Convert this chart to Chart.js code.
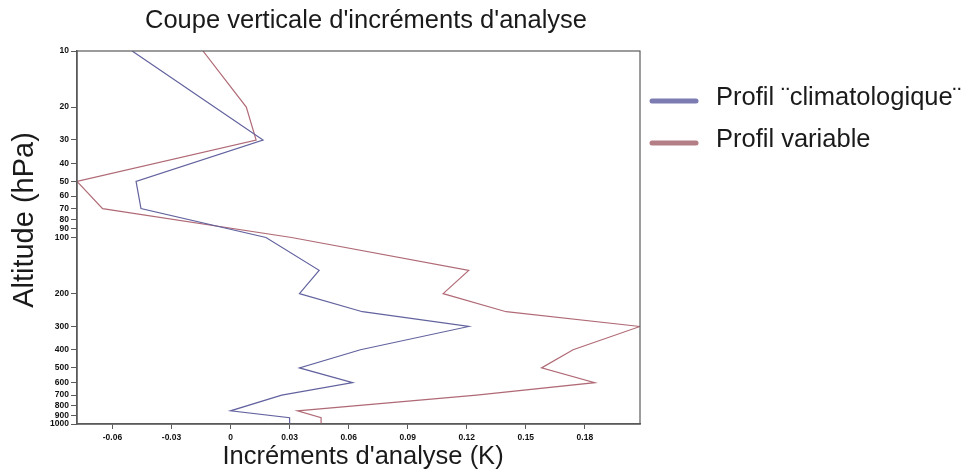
<!DOCTYPE html>
<html lang="fr">
<head>
<meta charset="utf-8">
<title>Coupe verticale d'incréments d'analyse</title>
<script src="https://cdn.jsdelivr.net/npm/chart.js@4.4.1/dist/chart.umd.min.js"></script>
<style>
  html, body { margin: 0; padding: 0; background: #fff; }
  #cadre { width: 970px; height: 475px; position: relative; }
</style>
</head>
<body>
<div id="cadre"><canvas id="coupe" width="970" height="475"></canvas></div>
<script>
// Niveaux de pression (hPa) et incréments (K) des deux profils
const niveaux = [10, 20, 30, 50, 70, 100, 150, 200, 250, 300, 400, 500, 600, 700, 850, 925, 1000];
const profilClimato = [-0.050, -0.008, 0.0165, -0.048, -0.0455, 0.018, 0.045, 0.035, 0.067, 0.121, 0.066, 0.035, 0.062, 0.026, 0.000, 0.030, 0.030];
const profilVariable = [-0.014, 0.008, 0.013, -0.078, -0.065, 0.031, 0.121, 0.108, 0.140, 0.208, 0.174, 0.158, 0.185, 0.125, 0.034, 0.046, 0.046];

// Graduations des axes
const ticksX = [-0.06, -0.03, 0, 0.03, 0.06, 0.09, 0.12, 0.15, 0.18];
const labelsX = ['-0.06', '-0.03', '0', '0.03', '0.06', '0.09', '0.12', '0.15', '0.18'];
const ticksY = [10, 20, 30, 40, 50, 60, 70, 80, 90, 100, 200, 300, 400, 500, 600, 700, 800, 900, 1000];

const bleu = '#62629f';
const rouge = '#b06a76';
const police = '"Liberation Sans", Arial, sans-serif';

function points(valeurs) {
    return valeurs.map((v, i) => ({ x: v, y: niveaux[i] }));
}

// Titre, titres d'axes, cadre et légende dessinés à la main
const habillage = {
    id: 'habillage',
    afterDraw(chart) {
        const ctx = chart.ctx;
        const a = chart.chartArea;
        ctx.save();
        // cadre autour de la zone du graphe
        ctx.strokeStyle = '#5a5a5a';
        ctx.lineWidth = 1.2;
        ctx.strokeRect(a.left, a.top, a.right - a.left, a.bottom - a.top);

        ctx.fillStyle = '#1a1a1a';
        ctx.textAlign = 'center';
        ctx.textBaseline = 'middle';
        ctx.font = '25.5px ' + police;
        ctx.fillText("Coupe verticale d'incréments d'analyse", 366, 21);

        ctx.font = '25.5px ' + police;
        ctx.fillText("Incréments d'analyse (K)", 363, 457);

        ctx.save();
        ctx.translate(25, 220);
        ctx.rotate(-Math.PI / 2);
        ctx.font = '29px ' + police;
        ctx.fillText('Altitude (hPa)', 0, 0);
        ctx.restore();

        // légende
        const entrees = [
            { nom: 'Profil ¨climatologique¨', couleur: '#7c7cb2', y: 101 },
            { nom: 'Profil variable', couleur: '#b47e86', y: 143 }
        ];
        ctx.lineCap = 'round';
        ctx.lineWidth = 5;
        ctx.textAlign = 'left';
        ctx.font = '25.5px ' + police;
        entrees.forEach(e => {
            ctx.strokeStyle = e.couleur;
            ctx.beginPath();
            ctx.moveTo(652, e.y);
            ctx.lineTo(696, e.y);
            ctx.stroke();
            ctx.fillStyle = '#1a1a1a';
            ctx.fillText(e.nom, 716, e.y - 3);
        });
        ctx.restore();
    }
};

new Chart(document.getElementById('coupe'), {
    type: 'scatter',
    data: {
        datasets: [
            { label: 'Profil ¨climatologique¨', data: points(profilClimato), borderColor: bleu, borderWidth: 1.2 },
            { label: 'Profil variable', data: points(profilVariable), borderColor: rouge, borderWidth: 1.2 }
        ]
    },
    options: {
        responsive: false,
        animation: false,
        showLine: true,
        elements: { point: { radius: 0, hoverRadius: 0 }, line: { tension: 0 } },
        layout: { padding: { left: 0, top: 51, right: 330, bottom: 0 } },
        plugins: { legend: { display: false }, tooltip: { enabled: false }, title: { display: false } },
        scales: {
            x: {
                type: 'linear',
                min: -0.078,
                max: 0.208,
                afterBuildTicks: s => { s.ticks = ticksX.map(v => ({ value: v })); },
                afterFit: s => { s.height = 51; },
                grid: { display: true, drawOnChartArea: false, tickLength: 5, color: '#5a5a5a' },
                border: { display: true, color: '#5a5a5a', width: 1.5 },
                ticks: {
                    autoSkip: false, maxRotation: 0, padding: 4,
                    color: '#111', font: { family: police, size: 8.5, weight: 'bold' },
                    callback: (v, i) => labelsX[i]
                }
            },
            y: {
                type: 'logarithmic',
                reverse: true,
                min: 10,
                max: 1000,
                afterBuildTicks: s => { s.ticks = ticksY.map(v => ({ value: v })); },
                afterFit: s => { s.width = 77; },
                grid: { display: true, drawOnChartArea: false, tickLength: 6, color: '#5a5a5a' },
                border: { display: true, color: '#5a5a5a', width: 1.5 },
                ticks: {
                    autoSkip: false, padding: 2,
                    color: '#111', font: { family: police, size: 8.5, weight: 'bold' },
                    callback: v => String(v)
                }
            }
        }
    },
    plugins: [habillage]
});
</script>
</body>
</html>
